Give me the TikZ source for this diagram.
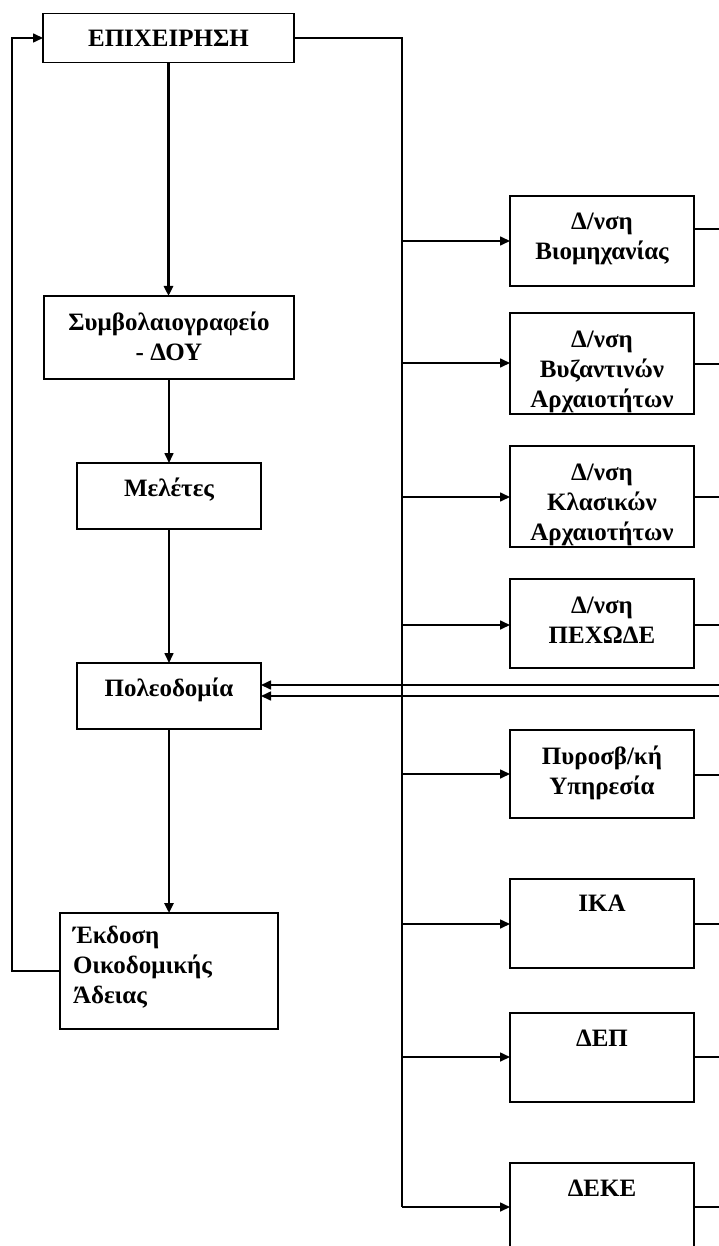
\documentclass[tikz,border=0pt]{standalone}
\usepackage{fontspec}
\setmainfont{Liberation Serif}
\usetikzlibrary{arrows.meta,positioning}

\tikzset{
  box/.style={draw, line width=1.4pt, rectangle, inner sep=0pt, outer sep=0pt},
  lbl/.style={inner sep=0pt, outer sep=0pt, align=center,
              font=\fontsize{25}{30}\selectfont\bfseries},
  lbll/.style={lbl, align=left},
  link/.style={line width=1.6pt},
  heavy/.style={line width=2.5pt},
  arr/.style={-{Triangle[length=10pt,width=9pt]}},
}

\begin{document}
\begin{tikzpicture}[x=1pt,y=-1pt]
  \clip (0,0) rectangle (719,1246);
  \fill[white] (0,0) rectangle (719,1246);

  % left column: the licensing path
  \node[box, minimum width=251pt, minimum height=49pt, font=\fontsize{25}{30}\selectfont\bfseries]
       (top) at (168.5,38) {ΕΠΙΧΕΙΡΗΣΗ};
  \node[box, minimum width=250pt, minimum height=83pt] (symb) at (169,337.5) {};
  \node[box, minimum width=184pt, minimum height=66pt] (mel)  at (169,496) {};
  \node[box, minimum width=184pt, minimum height=66pt] (pol)  at (169,696) {};
  \node[box, minimum width=218pt, minimum height=116pt] (ekd) at (169,971) {};

  \node[lbl, anchor=north] (tsymb) at ([yshift=-13pt]symb.north) {\strut Συμβολαιογραφείο\\- ΔΟΥ};
  \node[lbl, anchor=north] (tmel)  at ([yshift=-12pt]mel.north)  {\strut Μελέτες};
  \node[lbl, anchor=north] (tpol)  at ([yshift=-12pt]pol.north)  {\strut Πολεοδομία};
  \node[lbll, anchor=north west] (tekd) at ([xshift=13pt,yshift=-9pt]ekd.north west)
       {\strut Έκδοση\\Οικοδομικής\\Άδειας};

  % right column: the services consulted
  \node[box, minimum width=184pt, minimum height=90pt]  (b1) at (602,241) {};
  \node[box, minimum width=184pt, minimum height=101pt] (b2) at (602,363.5) {};
  \node[box, minimum width=184pt, minimum height=101pt] (b3) at (602,496.5) {};
  \node[box, minimum width=184pt, minimum height=89pt]  (b4) at (602,623.5) {};
  \node[box, minimum width=184pt, minimum height=88pt]  (b5) at (602,774) {};
  \node[box, minimum width=184pt, minimum height=89pt]  (b6) at (602,923.5) {};
  \node[box, minimum width=184pt, minimum height=89pt]  (b7) at (602,1057.5) {};
  \node[box, minimum width=184pt, minimum height=92pt]  (b8) at (602,1209) {};

  \node[lbl, anchor=north] (t1) at ([yshift=-13pt]b1.north) {\strut Δ/νση\\Βιομηχανίας};
  \node[lbl, anchor=north] (t2) at ([yshift=-13pt]b2.north) {\strut Δ/νση\\Βυζαντινών\\Αρχαιοτήτων};
  \node[lbl, anchor=north] (t3) at ([yshift=-13pt]b3.north) {\strut Δ/νση\\Κλασικών\\Αρχαιοτήτων};
  \node[lbl, anchor=north] (t4) at ([yshift=-13pt]b4.north) {\strut Δ/νση\\ΠΕΧΩΔΕ};
  \node[lbl, anchor=north] (t5) at ([yshift=-13pt]b5.north) {\strut Πυροσβ/κή\\Υπηρεσία};
  \node[lbl, anchor=north] (t6) at ([yshift=-11pt]b6.north) {\strut ΙΚΑ};
  \node[lbl, anchor=north] (t7) at ([yshift=-12pt]b7.north) {\strut ΔΕΠ};
  \node[lbl, anchor=north] (t8) at ([yshift=-12pt]b8.north) {\strut ΔΕΚΕ};

  % branching trunk
  \coordinate (j1) at (402,241);
  \coordinate (j2) at (402,363);
  \coordinate (j3) at (402,497);
  \coordinate (j4) at (402,625);
  \coordinate (j5) at (402,774);
  \coordinate (j6) at (402,924);
  \coordinate (j7) at (402,1057);
  \coordinate (j8) at (402,1207);

  \draw[link] (top.east) -| (j8);
  \foreach \i in {1,...,8} {
    \draw[link,arr] (j\i) -- (j\i -| b\i.west);
  }

  % outgoing stubs at the right edge
  \coordinate (e1) at (719,229);
  \coordinate (e2) at (719,364);
  \coordinate (e3) at (719,497);
  \coordinate (e4) at (719,625);
  \coordinate (e5) at (719,775);
  \coordinate (e6) at (719,924);
  \coordinate (e7) at (719,1057);
  \coordinate (e8) at (719,1207);
  \foreach \i in {1,...,8} {
    \draw[link] (e\i -| b\i.east) -- (e\i);
  }

  % returns into the planning office
  \coordinate (r1) at (719,685);
  \coordinate (r2) at (719,696);
  \draw[link,arr] (r1) -- (r1 -| pol.east);
  \draw[link,arr] (r2) -- (r2 -| pol.east);

  % main vertical flow
  \draw[heavy,arr] (top.south) -- (top.south |- symb.north);
  \draw[link,arr] (symb.south) -- (mel.north);
  \draw[link,arr] (mel.south) -- (pol.north);
  \draw[heavy,arr] (pol.south) -- (ekd.north);

  % feedback to the enterprise
  \coordinate (fb) at (12,971);
  \draw[link,arr] (ekd.west) -- (fb) |- (top.west);
\end{tikzpicture}
\end{document}
